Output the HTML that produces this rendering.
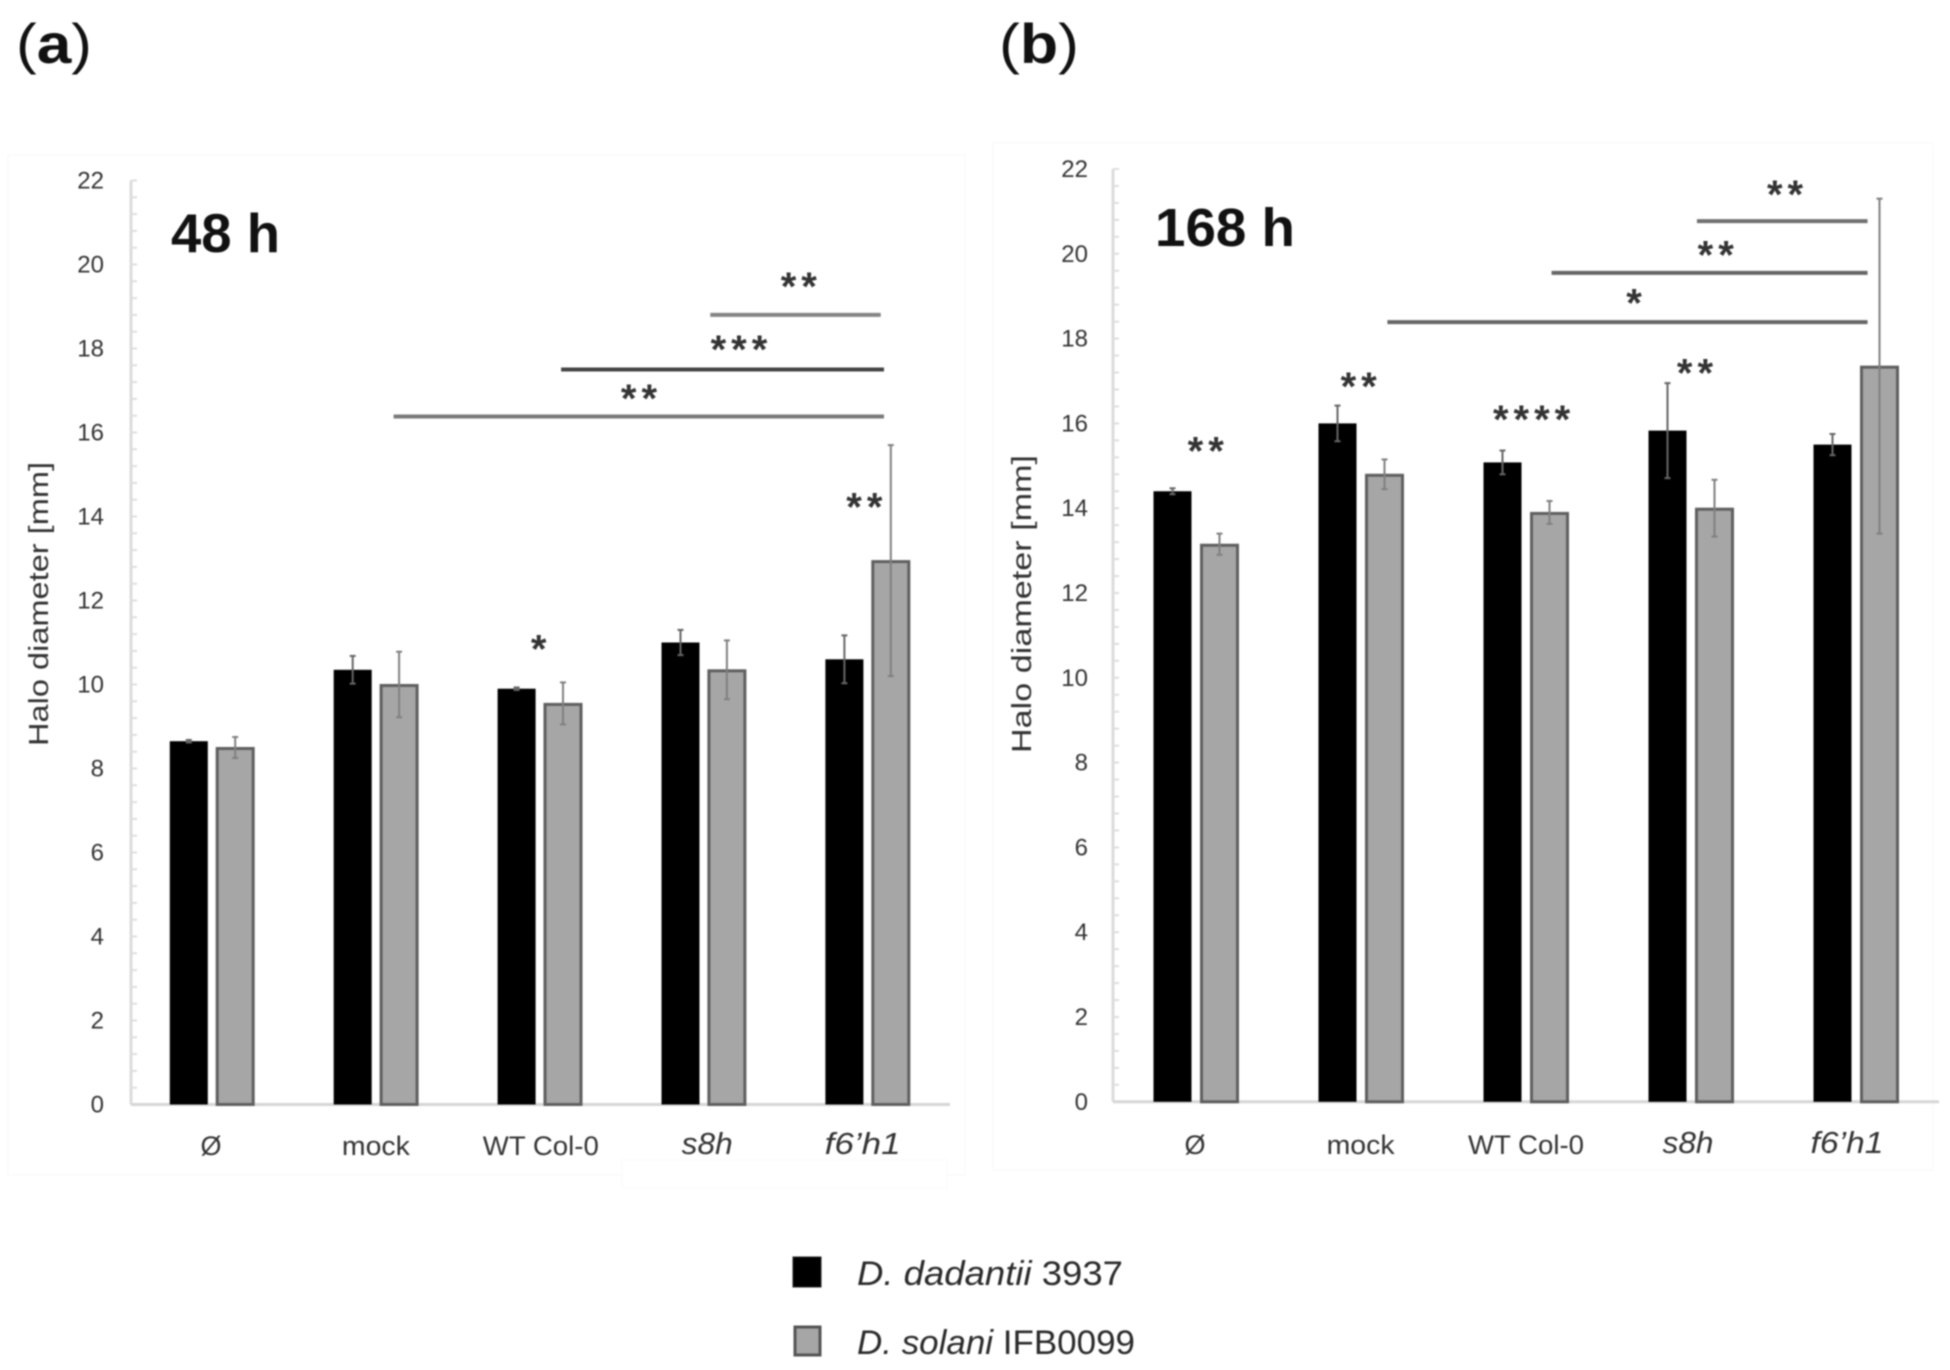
<!DOCTYPE html>
<html lang="en">
<head>
<meta charset="utf-8">
<title>Halo diameter at 48 h and 168 h</title>
<style>
html,body{margin:0;padding:0;background:#fff;width:1950px;height:1370px;overflow:hidden}
svg{display:block;filter:blur(0.8px)}
text{font-family:"Liberation Sans",sans-serif}
</style>
</head>
<body>
<svg id="figure" xmlns="http://www.w3.org/2000/svg" width="1950" height="1370" viewBox="0 0 1950 1370">
  <rect width="1950" height="1370" fill="#fff"/>
  <rect x="8" y="155" width="957" height="1020" fill="#fff" stroke="#fbfbfb" stroke-width="2"/>
  <rect x="622" y="1160" width="325" height="28" fill="#fff" stroke="#fcfcfc" stroke-width="2"/>
  <rect x="993" y="143" width="940" height="1027" fill="#fff" stroke="#fbfbfb" stroke-width="2"/>

  <text x="16" y="63" font-size="56" fill="#111" textLength="76" lengthAdjust="spacingAndGlyphs">(<tspan font-weight="700">a</tspan>)</text>
  <text x="999" y="63" font-size="56" fill="#111" textLength="80" lengthAdjust="spacingAndGlyphs">(<tspan font-weight="700">b</tspan>)</text>

  <text x="171" y="252" font-size="55" font-weight="700" fill="#111" textLength="109" lengthAdjust="spacingAndGlyphs">48 h</text>
  <text x="1155" y="246" font-size="54" font-weight="700" fill="#111" textLength="140" lengthAdjust="spacingAndGlyphs">168 h</text>

  <text transform="translate(48,604) rotate(-90)" text-anchor="middle" font-size="28" fill="#333" textLength="284" lengthAdjust="spacingAndGlyphs">Halo diameter [mm]</text>
  <text transform="translate(1031,604) rotate(-90)" text-anchor="middle" font-size="28" fill="#333" textLength="298" lengthAdjust="spacingAndGlyphs">Halo diameter [mm]</text>

  <g id="panel-a"></g>
  <g id="panel-b"></g>

  <g>
    <rect x="793" y="1257" width="28" height="30" fill="#000" stroke="#222" stroke-width="1"/>
    <text x="857" y="1285" font-size="34" fill="#2a2a2a" textLength="266" lengthAdjust="spacingAndGlyphs"><tspan font-style="italic">D. dadantii</tspan> 3937</text>
    <rect x="795" y="1327" width="25" height="28" fill="#a6a6a6" stroke="#555" stroke-width="3"/>
    <text x="857" y="1354" font-size="34" fill="#2a2a2a" textLength="278" lengthAdjust="spacingAndGlyphs"><tspan font-style="italic">D. solani</tspan> IFB0099</text>
  </g>
</svg>

<script>
// Shared axis data
const yTickLabels = [0, 2, 4, 6, 8, 10, 12, 14, 16, 18, 20, 22];
const categories = ["Ø", "mock", "WT Col-0", "s8h", "f6’h1"];
const categoryItalic = [false, false, false, true, true];

// Panel (a) 48 h
const dadantii48 = [8.65, 10.35, 9.9, 11.0, 10.6];
const solani48 = [8.5, 10.0, 9.55, 10.35, 12.95];
const dadantiiErr48 = [0.03, 0.33, 0.03, 0.3, 0.57];
const solaniErr48 = [0.25, 0.78, 0.5, 0.7, 2.75];
const sigLineFrom48 = [3.04, 2.13, 1.108];
const sigLineTo48 = [4.08, 4.1, 4.1];
const sigLineLevel48 = [18.8, 17.5, 16.38];
const sigLineColor48 = ["#858585", "#444444", "#7a7a7a"];
const starText48 = ["**", "***", "**", "**", "*"];
const starPos48 = [3.58, 3.215, 2.605, 3.98, 1.993];
const starLevel48 = [19.58, 18.08, 16.92, 14.33, 10.95];

// Panel (b) 168 h
const dadantii168 = [14.4, 16.0, 15.08, 15.83, 15.5];
const solani168 = [13.15, 14.8, 13.9, 14.0, 17.35];
const dadantiiErr168 = [0.07, 0.42, 0.28, 1.12, 0.25];
const solaniErr168 = [0.25, 0.35, 0.27, 0.67, 3.95];
const sigLineFrom168 = [3.036, 2.155, 1.16];
const sigLineTo168 = [4.07, 4.07, 4.07];
const sigLineLevel168 = [20.77, 19.55, 18.39];
const sigLineColor168 = ["#707070", "#666666", "#666666"];
const starText168 = ["**", "**", "*", "**", "****", "**", "**"];
const starPos168 = [3.57, 3.15, 2.655, 3.024, 2.034, 0.986, 0.059];
const starLevel168 = [21.5, 20.08, 18.95, 17.3, 16.2, 16.98, 15.45];

const SVG_NS = "http://www.w3.org/2000/svg";

function make(parent, tag, attrs, text) {
  const el = document.createElementNS(SVG_NS, tag);
  for (const k in attrs) el.setAttribute(k, attrs[k]);
  if (text !== undefined) el.textContent = text;
  parent.appendChild(el);
  return el;
}

function drawPanel(id, p, d) {
  const root = document.getElementById(id);
  const yS = v => p.y0 - v * p.unit;
  const xS = i => p.g0 + i * p.step;

  // y axis line
  const yLine = make(root, "line", {x1: p.axisX, x2: p.axisX, y1: yS(22), y2: yS(0), stroke: "#dcdcdc", "stroke-width": 3});
  
  

  // minor ticks
  for (let n = 0; n <= 55; n++) {
    const t = make(root, "line", {x1: p.axisX, x2: p.axisX + 6, y1: yS(n * 0.4), y2: yS(n * 0.4), stroke: "#dedede", "stroke-width": 2});
    
    
  }

  // tick labels
  yTickLabels.forEach(v => {
    const t = make(root, "text", {x: p.labelX, y: yS(v) + 8, "text-anchor": "end", "font-size": 24, fill: "#333"}, String(v));
    
    
  });

  // x axis line
  const xLine = make(root, "line", {x1: p.axisX, x2: p.axisEnd, y1: yS(0), y2: yS(0), stroke: "#d6d6d6", "stroke-width": 3});
  
  

  // bars and error bars
  categories.forEach((c, i) => {
    const bx = xS(i) - p.offset;
    const gx = xS(i) + p.offset;
    const hw = 19;

    const black = make(root, "rect", {x: bx - hw, y: yS(d.dad[i]), width: hw * 2, height: yS(0) - yS(d.dad[i]), fill: "#000"});
    
    

    const grey = make(root, "rect", {x: gx - hw + 1, y: yS(d.sol[i]) + 1, width: hw * 2 - 2, height: yS(0) - yS(d.sol[i]) - 1, fill: "#a6a6a6", stroke: "#5f5f5f", "stroke-width": 3});
    
    

    [[bx, d.dad[i], d.dadErr[i], "#666"], [gx, d.sol[i], d.solErr[i], "#808080"]].forEach(e => {
      const hi = yS(e[1] + e[2]);
      const lo = yS(e[1] - e[2]);
      const stem = make(root, "line", {x1: e[0], x2: e[0], y1: hi, y2: lo, stroke: e[3], "stroke-width": 2});
      
      
      const capHi = make(root, "line", {x1: e[0] - 3, x2: e[0] + 3, y1: hi, y2: hi, stroke: e[3], "stroke-width": 2});
      
      
      const capLo = make(root, "line", {x1: e[0] - 3, x2: e[0] + 3, y1: lo, y2: lo, stroke: e[3], "stroke-width": 2});
      
      
    });

    const labAttrs = {x: xS(i) + p.catShift[i], y: p.catY - (categoryItalic[i] ? 1 : 0), "text-anchor": "middle", "font-size": categoryItalic[i] ? 31 : 27, fill: "#333", "font-style": categoryItalic[i] ? "italic" : "normal"};
    if (p.catWidth[i]) {
      labAttrs.textLength = p.catWidth[i];
      labAttrs.lengthAdjust = "spacingAndGlyphs";
    }
    const lab = make(root, "text", labAttrs, c);
    
    
  });

  // significance lines
  d.from.forEach((f, i) => {
    const l = make(root, "line", {x1: xS(f), x2: xS(d.to[i]), y1: yS(d.level[i]), y2: yS(d.level[i]), stroke: d.color[i], "stroke-width": 4});
    
    
  });

  // significance stars
  d.stars.forEach((s, i) => {
    const t = make(root, "text", {x: xS(d.starPos[i]) + 2.5, y: yS(d.starLevel[i]) + 18, "text-anchor": "middle", "font-size": 40, "font-weight": 700, "letter-spacing": 5, fill: "#333"}, s);
    
    
  });
}

drawPanel("panel-a",
  {y0: 1104.5, unit: 42, g0: 212, step: 163.9, offset: 23.2, axisX: 131, axisEnd: 950, labelX: 104, catY: 1155, catShift: [-1, 0, 1, 3.5, -5], catWidth: [0, 68, 116, 51, 76]},
  {dad: dadantii48, sol: solani48, dadErr: dadantiiErr48, solErr: solaniErr48, from: sigLineFrom48, to: sigLineTo48, level: sigLineLevel48, color: sigLineColor48, stars: starText48, starPos: starPos48, starLevel: starLevel48});

drawPanel("panel-b",
  {y0: 1101.8, unit: 42.4, g0: 1196, step: 165, offset: 23.5, axisX: 1113, axisEnd: 1939, labelX: 1088, catY: 1154, catShift: [-1, -0.4, 0, -3, -9], catWidth: [0, 68, 116, 51, 73]},
  {dad: dadantii168, sol: solani168, dadErr: dadantiiErr168, solErr: solaniErr168, from: sigLineFrom168, to: sigLineTo168, level: sigLineLevel168, color: sigLineColor168, stars: starText168, starPos: starPos168, starLevel: starLevel168});
</script>
</body>
</html>
